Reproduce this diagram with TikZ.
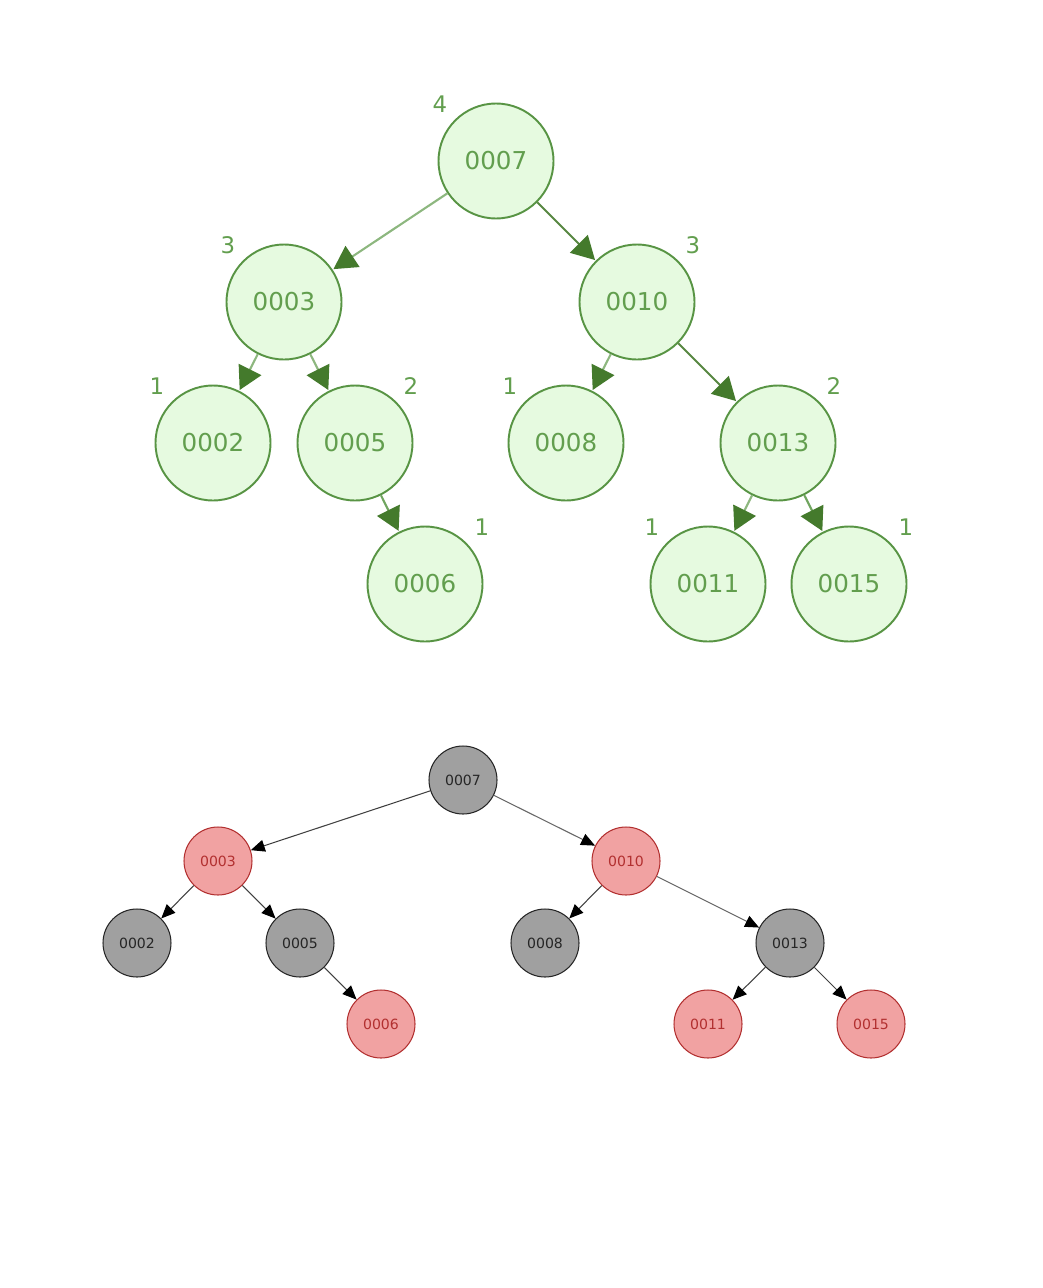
\documentclass[tikz,border=0pt]{standalone}
\usepackage{fontspec}
\setmainfont{DejaVu Sans}
\definecolor{avlfill}{RGB}{230,250,224}
\definecolor{avldraw}{RGB}{88,148,68}
\definecolor{avltext}{RGB}{98,158,78}
\definecolor{avledge}{RGB}{112,165,95}
\definecolor{avltip}{RGB}{68,122,44}
\definecolor{rbgray}{RGB}{160,160,160}
\definecolor{rbred}{RGB}{241,162,162}
\definecolor{rbreddraw}{RGB}{178,48,48}
\usetikzlibrary{arrows.meta}

\begin{document}
\begin{tikzpicture}[
  x=0.02cm,y=-0.02cm,
  avlnode/.style={circle,draw=avldraw,line width=1.1pt,fill=avlfill,minimum size=2.3cm,
                  inner sep=0pt,text=avltext,font=\fontsize{14}{16}\selectfont},
  hlabel/.style={text=avltext,font=\fontsize{13}{15}\selectfont,inner sep=0pt},
  avlarr/.style={avledge,line width=1.2pt,
                 -{Triangle[length=0.46cm,width=0.5cm,color=avltip]},shorten >=0.5pt},
  rbnode/.style={circle,draw=black!85,line width=0.6pt,minimum size=1.36cm,
                 inner sep=0pt,font=\fontsize{8}{10}\selectfont},
  blacknode/.style={rbnode,fill=rbgray,text=black!85},
  rednode/.style={rbnode,fill=rbred,draw=rbreddraw,text=rbreddraw},
  rbarr/.style={black!75,line width=0.6pt,-{Triangle[length=0.28cm,width=0.24cm,color=black]}},
]
  \useasboundingbox (0,0) rectangle (1042,1288);

  % AVL tree with heights
  \node[avlnode] (a7)  at (496,161) {0007};
  \node[avlnode] (a3)  at (284,302) {0003};
  \node[avlnode] (a10) at (637,302) {0010};
  \node[avlnode] (a2)  at (213,443) {0002};
  \node[avlnode] (a5)  at (355,443) {0005};
  \node[avlnode] (a8)  at (566,443) {0008};
  \node[avlnode] (a13) at (778,443) {0013};
  \node[avlnode] (a6)  at (425,584) {0006};
  \node[avlnode] (a11) at (708,584) {0011};
  \node[avlnode] (a15) at (849,584) {0015};

  % heights
  \node[hlabel] (h7)  at (440,104) {4};
  \node[hlabel] (h3)  at (228,245) {3};
  \node[hlabel] (h10) at (693,245) {3};
  \node[hlabel] (h2)  at (157,386) {1};
  \node[hlabel] (h5)  at (411,386) {2};
  \node[hlabel] (h8)  at (510,386) {1};
  \node[hlabel] (h13) at (834,386) {2};
  \node[hlabel] (h6)  at (482,527) {1};
  \node[hlabel] (h11) at (652,527) {1};
  \node[hlabel] (h15) at (906,527) {1};

  % AVL edges
  \draw[avlarr,avledge!80] (a7) -- (a3);
  \draw[avlarr,avltip!90] (a7) -- (a10);
  \draw[avlarr,avledge!80] (a3) -- (a2);
  \draw[avlarr,avledge!80] (a3) -- (a5);
  \draw[avlarr,avledge!80] (a10) -- (a8);
  \draw[avlarr,avltip!90] (a10) -- (a13);
  \draw[avlarr] (a5) -- (a6);
  \draw[avlarr,avledge!80] (a13) -- (a11);
  \draw[avlarr] (a13) -- (a15);

  % red-black tree
  \node[blacknode] (r7)  at (463,780)  {0007};
  \node[rednode]   (r3)  at (218,861)  {0003};
  \node[rednode]   (r10) at (626,861)  {0010};
  \node[blacknode] (r2)  at (137,943)  {0002};
  \node[blacknode] (r5)  at (300,943)  {0005};
  \node[blacknode] (r8)  at (545,943)  {0008};
  \node[blacknode] (r13) at (790,943)  {0013};
  \node[rednode]   (r6)  at (381,1024) {0006};
  \node[rednode]   (r11) at (708,1024) {0011};
  \node[rednode]   (r15) at (871,1024) {0015};

  % red-black edges
  \draw[rbarr] (r7) -- (r3);
  \draw[rbarr,black!60] (r7) -- (r10);
  \draw[rbarr] (r3) -- (r2);
  \draw[rbarr] (r3) -- (r5);
  \draw[rbarr] (r10) -- (r8);
  \draw[rbarr,black!60] (r10) -- (r13);
  \draw[rbarr] (r5) -- (r6);
  \draw[rbarr] (r13) -- (r11);
  \draw[rbarr] (r13) -- (r15);
\end{tikzpicture}
\end{document}
